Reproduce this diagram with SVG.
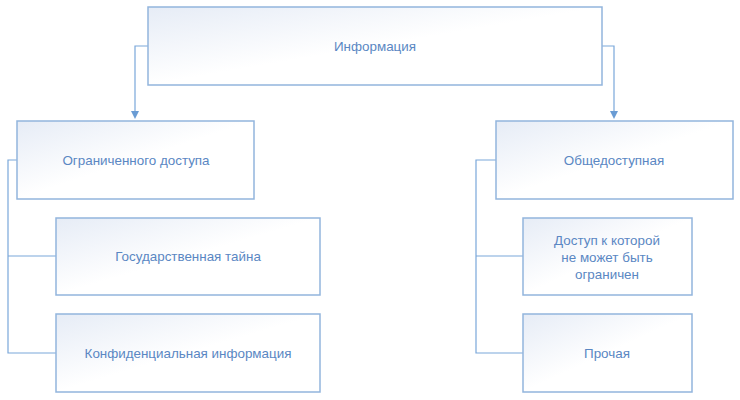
<svg xmlns="http://www.w3.org/2000/svg" width="740" height="400" viewBox="0 0 740 400">
<defs>
<linearGradient id="g" x1="0" y1="0" x2="1" y2="1">
<stop offset="0" stop-color="#e6ecf6"/>
<stop offset="0.5" stop-color="#ffffff"/>
<stop offset="1" stop-color="#ffffff"/>
</linearGradient>
<style>
.box{fill:url(#g);stroke:#92b5dd;stroke-width:1.5}
.t{font-family:"Liberation Sans",Arial,sans-serif;font-size:13.4px;fill:#5a87c3;text-anchor:middle;dominant-baseline:central}
.c{fill:none;stroke:#7aa7da;stroke-width:1.2}
.ah{fill:#6a9cd4}
</style>
</defs>
<rect width="740" height="400" fill="#ffffff"/>
<g id="connectors">
<path class="c" d="M148,46 H135 V112"/>
<path class="ah" d="M131,111 L139,111 L135,119 Z"/>
<path class="c" d="M602,46 H614 V112"/>
<path class="ah" d="M610,111 L618,111 L614,119 Z"/>
<path class="c" d="M17,160 H8 V353 H56 M8,256 H56"/>
<path class="c" d="M496,160 H476 V353 H523 M476,256 H523"/>
</g>
<g id="n-info"><rect class="box" x="148" y="7" width="454" height="78"/><text class="t" x="375" y="46">Информация</text></g>
<g id="n-limited"><rect class="box" x="17" y="121" width="237" height="78"/><text class="t" x="136" y="160">Ограниченного доступа</text></g>
<g id="n-state"><rect class="box" x="56" y="218" width="264" height="77"/><text class="t" x="188" y="256">Государственная тайна</text></g>
<g id="n-conf"><rect class="box" x="56" y="314" width="264" height="78"/><text class="t" x="188" y="353">Конфиденциальная информация</text></g>
<g id="n-public"><rect class="box" x="496" y="121" width="237" height="78"/><text class="t" x="614" y="160">Общедоступная</text></g>
<g id="n-unlimited"><rect class="box" x="523" y="218" width="169" height="77"/><text class="t" x="607" y="240">Доступ к которой</text><text class="t" x="607" y="257">не может быть</text><text class="t" x="607" y="274">ограничен</text></g>
<g id="n-other"><rect class="box" x="523" y="314" width="169" height="78"/><text class="t" x="607" y="353">Прочая</text></g>
</svg>
